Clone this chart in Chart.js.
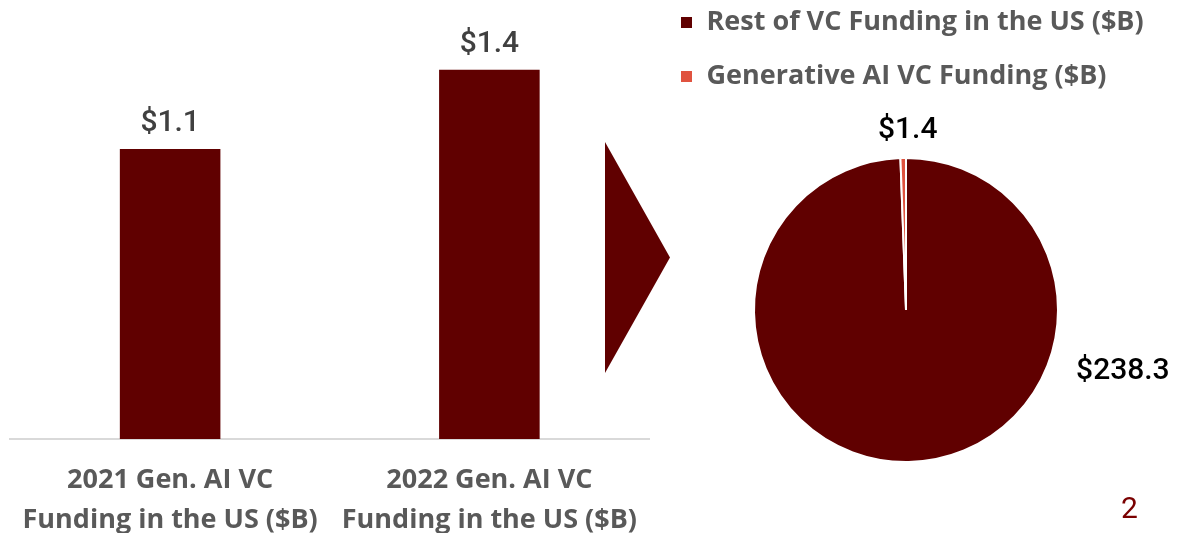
<!DOCTYPE html>
<html>
<head>
<meta charset="utf-8">
<script src="https://cdn.jsdelivr.net/npm/chart.js@4"></script>
<style>
html, body { margin: 0; padding: 0; background: #fff; overflow: hidden; width: 1201px; height: 533px; }
#bar { position: absolute; left: 0; top: 0; }
#arrow { position: absolute; left: 605px; top: 142px; width: 65px; height: 231px; background: #600000;
  clip-path: polygon(0 0, 100% 50%, 0 100%); }
#pie { position: absolute; left: 653px; top: -18.5px; }
#page { position: absolute; left: 1121px; top: 490px; font: 30px Roboto, sans-serif; color: #7a0000; }
</style>
</head>
<body>
<canvas id="bar" width="660" height="561"></canvas>
<div id="arrow"></div>
<canvas id="pie" width="548" height="538"></canvas>
<div id="page">2</div>
<script>
// bar chart data
const barLabels = [['2021 Gen. AI VC', 'Funding in the US ($B)'], ['2022 Gen. AI VC', 'Funding in the US ($B)']];
const barValues = [1.1, 1.4];

// pie chart data
const pieLabels = ['Rest of VC Funding in the US ($B)', 'Generative AI VC Funding ($B)'];
const pieValues = [238.3, 1.4];

const maroon = '#600000';
const catFont = { family: 'Open Sans', weight: 'bold', size: 27 };

// value labels over the bars
const barValuePlugin = {
    id: 'barValues',
    afterDatasetsDraw(chart) {
        const ctx = chart.ctx;
        const meta = chart.getDatasetMeta(0);
        ctx.save();
        ctx.font = '500 30px Roboto';
        ctx.fillStyle = '#404040';
        ctx.textAlign = 'center';
        ctx.textBaseline = 'middle';
        meta.data.forEach((bar, i) => {
            ctx.fillText('$' + barValues[i].toFixed(1), bar.x, bar.y - 25);
        });
        ctx.restore();
    }
};

// value labels outside the pie
const pieValuePlugin = {
    id: 'pieValues',
    afterDatasetsDraw(chart) {
        const ctx = chart.ctx;
        const meta = chart.getDatasetMeta(0);
        ctx.save();
        ctx.font = '500 30px Roboto';
        ctx.fillStyle = '#000';
        ctx.textBaseline = 'middle';
        meta.data.forEach((arc, i) => {
            const p = arc.getProps(['x', 'y', 'startAngle', 'endAngle', 'outerRadius'], true);
            const big = (p.endAngle - p.startAngle) > Math.PI;
            let ang, dist;
            if (big) {
                // big slice: label sits to the right, a bit below centre
                ang = 20 * Math.PI / 180;
                dist = p.outerRadius + 29;
                ctx.textAlign = 'left';
            } else {
                ang = (p.startAngle + p.endAngle) / 2;
                dist = p.outerRadius + 28;
                ctx.textAlign = 'center';
            }
            const txt = '$' + pieValues[i].toFixed(1);
            ctx.fillText(txt, p.x + Math.cos(ang) * dist + (big ? 0 : 5), p.y + Math.sin(ang) * dist);
        });
        ctx.restore();
    }
};

new Chart(document.getElementById('bar'), {
    type: 'bar',
    data: {
        labels: barLabels,
        datasets: [{
            data: barValues,
            backgroundColor: maroon,
            categoryPercentage: 1,
            barPercentage: 0.315
        }]
    },
    options: {
        responsive: false,
        animation: false,
        layout: { padding: { left: 6, right: 11, top: 17 } },
        plugins: { legend: { display: false }, tooltip: { enabled: false } },
        scales: {
            x: {
                grid: { display: false, drawTicks: false },
                border: { color: '#d9d9d9', width: 2 },
                ticks: { padding: 21, color: '#595959', font: Object.assign({ lineHeight: '40px' }, catFont) }
            },
            y: { display: false, min: 0, max: 1.6 }
        }
    },
    plugins: [barValuePlugin]
});

new Chart(document.getElementById('pie'), {
    type: 'pie',
    data: {
        labels: pieLabels,
        datasets: [{
            data: pieValues,
            backgroundColor: [maroon, '#e0533f'],
            borderColor: '#fff',
            borderWidth: 2,
            radius: 152
        }]
    },
    options: {
        responsive: false,
        animation: false,
        layout: { padding: { right: 42 } },
        plugins: {
            legend: {
                position: 'top',
                align: 'start',
                labels: { boxWidth: 13, boxHeight: 13, padding: 27, color: '#595959', font: catFont }
            },
            tooltip: { enabled: false }
        }
    },
    plugins: [pieValuePlugin]
});
</script>
</body>
</html>
